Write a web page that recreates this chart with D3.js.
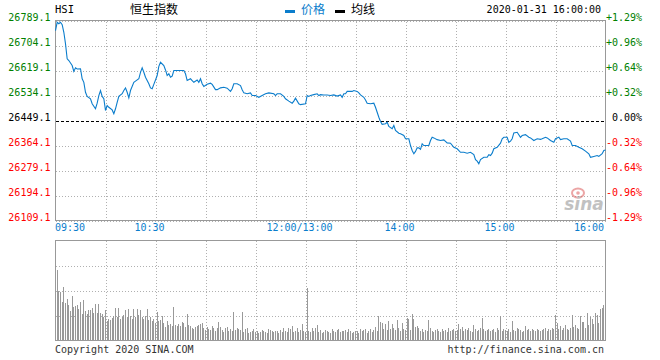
<!DOCTYPE html>
<html><head><meta charset="utf-8">
<script src="https://cdn.jsdelivr.net/npm/d3@7/dist/d3.min.js"></script>
<style>body{margin:0;background:#fff}svg{display:block}</style>
</head><body>
<svg id="chart" width="660" height="360"></svg>
<script>
// ---- data ----
const title = "恒生指数";
const symbol = "HSI";
const stamp = "2020-01-31 16:00:00";
const prevClose = 26449.1;
const priceTicks = [26789.1, 26704.1, 26619.1, 26534.1, 26449.1, 26364.1, 26279.1, 26194.1, 26109.1];
const pctTicks = ["+1.29%", "+0.96%", "+0.64%", "+0.32%", "0.00%", "-0.32%", "-0.64%", "-0.96%", "-1.29%"];
const timeLabels = ["09:30", "10:30", "12:00/13:00", "14:00", "15:00", "16:00"];
const timeLabelMinutes = [0, 60, 150, 210, 270, 330];
const gridMinutes = [30, 60, 90, 120, 150, 180, 210, 240, 270, 300];
// minute index since 09:30 (trading minutes, lunch removed)
const priceMinutes = [0,1,2,3,4,5,6,7,8,10,11,12,13,15,16,17,18,19,21,22,24,25,26,27,28,29,30,31,32,34,35,36,37,38,40,41,42,43,44,45,47,48,50,51,52,53,54,56,57,58,59,61,62,63,65,66,67,68,69,70,71,73,77,78,79,81,82,83,85,86,87,88,89,91,93,94,96,97,99,101,103,105,106,107,109,111,112,113,115,117,118,120,122,124,126,128,131,132,133,135,137,138,140,142,143,144,146,147,150,151,152,153,155,157,158,159,161,163,165,167,169,171,172,173,174,175,178,179,181,182,183,185,186,187,189,191,192,193,194,195,196,198,199,200,202,203,204,206,207,209,210,212,213,214,215,216,217,218,219,220,221,223,224,225,226,227,229,231,233,235,237,239,241,243,245,247,249,251,252,253,254,255,257,259,260,261,262,263,265,267,268,269,271,272,273,274,275,277,279,280,282,284,285,287,289,291,292,294,295,297,299,300,302,303,305,307,309,310,312,314,316,318,320,321,323,325,326,328,329,330];
const priceValues = [26755,26783,26778,26783,26775,26749,26710,26659,26653,26636,26616,26628,26624,26625,26591,26579,26545,26531,26523,26506,26489,26508,26534,26551,26531,26523,26483,26500,26494,26485,26472,26489,26511,26531,26540,26551,26560,26545,26526,26551,26579,26583,26591,26613,26628,26613,26596,26574,26560,26557,26572,26602,26633,26647,26636,26621,26602,26608,26596,26600,26619,26619,26619,26608,26585,26591,26585,26579,26587,26579,26591,26574,26565,26572,26576,26572,26554,26554,26560,26562,26559,26548,26557,26574,26574,26568,26554,26543,26540,26543,26534,26534,26528,26534,26540,26543,26540,26534,26540,26540,26531,26523,26515,26508,26515,26525,26506,26503,26506,26534,26531,26534,26537,26540,26534,26537,26536,26536,26534,26536,26532,26536,26528,26540,26540,26548,26548,26551,26548,26543,26536,26528,26519,26508,26506,26508,26494,26477,26460,26446,26436,26438,26443,26429,26421,26432,26415,26406,26404,26398,26387,26387,26364,26347,26336,26344,26356,26356,26351,26370,26364,26364,26364,26381,26392,26390,26384,26381,26383,26373,26372,26358,26353,26341,26341,26338,26341,26333,26316,26311,26302,26316,26324,26324,26333,26330,26338,26353,26358,26372,26387,26392,26392,26375,26379,26387,26407,26409,26392,26398,26401,26392,26390,26381,26387,26385,26387,26392,26390,26381,26375,26387,26392,26384,26387,26387,26379,26364,26364,26358,26353,26345,26336,26324,26327,26330,26327,26336,26347,26349];
// volume per minute (minutes 1..330), relative units (panel max = 100)
const volumes = [
71,50,49,39,54,38,42,36,30,45,
34,35,36,32,39,27,41,30,27,31,
31,33,28,37,28,37,28,27,24,31,
20,22,21,23,25,33,24,33,22,24,
26,31,24,32,25,22,32,24,32,26,
31,24,22,25,32,21,24,20,22,18,
29,20,21,25,18,14,20,16,17,15,
34,16,15,17,15,19,18,14,27,16,
15,13,12,14,15,16,17,18,13,11,
14,12,11,15,13,10,13,19,14,11,
9,13,14,10,12,10,29,11,13,12,
11,29,9,12,13,8,9,10,12,9,
10,8,9,11,10,9,8,12,11,10,
9,10,10,8,11,9,13,10,9,13,
12,15,9,10,13,9,11,17,10,9,
53,10,9,13,10,13,16,9,11,8,
9,11,10,9,8,12,10,9,11,12,
9,10,10,11,9,12,10,8,9,10,
10,8,12,10,11,12,8,10,12,9,
11,14,10,25,19,18,12,17,11,20,
12,17,13,11,21,13,10,18,12,11,
23,22,11,27,22,14,15,13,10,12,
9,11,10,21,13,10,9,11,12,10,
9,12,10,11,9,13,10,11,12,10,
11,17,12,14,10,12,11,13,10,9,
16,12,10,11,13,23,12,10,11,12,
10,11,12,9,13,11,25,10,12,11,
10,12,9,20,11,10,13,12,11,9,
10,15,11,12,10,12,11,10,12,11,
10,11,12,13,10,12,11,13,12,26,
18,12,15,11,13,16,12,11,13,26,
14,16,13,12,25,19,19,13,28,16,
24,22,17,28,26,18,32,33,36,50];
const legendNames = ["价格", "均线"];
const footerLeft = "Copyright 2020 SINA.COM";
const footerRight = "http://finance.sina.com.cn";

// ---- drawing ----
const svg = d3.select("#chart");
const MONO = "'DejaVu Sans Mono', 'Liberation Mono', monospace";
const CJK = "'Noto Sans CJK SC', sans-serif";
const BLUE = "#0b7dcc";
const GREEN = "#008000", RED = "#ff0000";
const GRID = "#b0b0b0", BORDER = "#999";

const L = 55.5, R = 605.5, T = 20.5, B = 220.5;
const VT = 240.5, VB = 340.5;

const x = d3.scaleLinear().domain([0, 330]).range([L, R]);
const y = d3.scaleLinear().domain([26109.1, 26789.1]).range([B, T]);
const yv = d3.scaleLinear().domain([0, 100]).range([VB, VT]);

svg.append("rect").attr("width", 660).attr("height", 360).attr("fill", "#fff");

// header
svg.append("text").attr("x", 55).attr("y", 13).attr("font-family", MONO).attr("font-size", 10.5).attr("fill", "#000").text(symbol);
svg.append("text").attr("x", 154).attr("y", 14).attr("text-anchor", "middle").attr("font-family", CJK).attr("font-size", 12).attr("fill", "#000").text(title);
svg.append("rect").attr("x", 285).attr("y", 10).attr("width", 10).attr("height", 3).attr("fill", BLUE);
svg.append("text").attr("x", 301).attr("y", 14).attr("font-family", CJK).attr("font-size", 12).attr("fill", BLUE).text(legendNames[0]);
svg.append("rect").attr("x", 335).attr("y", 10).attr("width", 10).attr("height", 3).attr("fill", "#000");
svg.append("text").attr("x", 351).attr("y", 14).attr("font-family", CJK).attr("font-size", 12).attr("fill", "#000").text(legendNames[1]);
svg.append("text").attr("x", 601).attr("y", 13).attr("text-anchor", "end").attr("font-family", MONO).attr("font-size", 10).attr("fill", "#000").text(stamp);

// price panel grid
const gMain = svg.append("g");
const yAxisGrid = d3.axisLeft(y).tickValues(priceTicks).tickSize(-(R - L)).tickFormat("");
gMain.append("g").attr("transform", `translate(${L},0)`).call(yAxisGrid)
  .call(g => g.select(".domain").remove())
  .selectAll("line").attr("stroke", d => d === prevClose ? "#000" : GRID)
  .attr("stroke-dasharray", d => d === prevClose ? "3,2" : "1,2")
  .attr("shape-rendering", "crispEdges");
const xAxisGrid = d3.axisBottom(x).tickValues(gridMinutes).tickSize(-(B - T)).tickFormat("");
gMain.append("g").attr("transform", `translate(0,${B})`).call(xAxisGrid)
  .call(g => g.select(".domain").remove())
  .selectAll("line").attr("stroke", GRID).attr("stroke-dasharray", "1,2").attr("shape-rendering", "crispEdges");
gMain.append("rect").attr("x", L).attr("y", T).attr("width", R - L).attr("height", B - T)
  .attr("fill", "none").attr("stroke", BORDER).attr("shape-rendering", "crispEdges");

// watermark
const wm = svg.append("g").attr("opacity", 0.6);
wm.append("ellipse").attr("cx", 578).attr("cy", 193).attr("rx", 6).attr("ry", 4.5).attr("fill", "none").attr("stroke", "#e06a6a").attr("stroke-width", 2);
wm.append("circle").attr("cx", 578).attr("cy", 193).attr("r", 1.8).attr("fill", "#e06a6a");
wm.append("text").attr("x", 584).attr("y", 210).attr("text-anchor", "middle").attr("font-family", "'DejaVu Sans', sans-serif")
  .attr("font-style", "italic").attr("font-weight", "bold").attr("font-size", 17).attr("fill", "#999").text("sina");

// left/right labels
const colorFor = v => v > prevClose ? GREEN : (v < prevClose ? RED : "#000");
svg.append("g").selectAll("text").data(priceTicks).join("text")
  .attr("x", 50.5).attr("y", d => y(d) + 0.5).attr("text-anchor", "end")
  .attr("font-family", MONO).attr("font-size", 10).attr("fill", colorFor)
  .text(d => d.toFixed(1));
svg.append("g").selectAll("text").data(priceTicks).join("text")
  .attr("x", 642).attr("y", d => y(d) + 0.5).attr("text-anchor", "end")
  .attr("font-family", MONO).attr("font-size", 10).attr("fill", colorFor)
  .text((d, i) => pctTicks[i]);

// time labels
svg.append("g").selectAll("text").data(timeLabels).join("text")
  .attr("x", (d, i) => i === 0 ? 55 : (i === timeLabels.length - 1 ? 604 : x(timeLabelMinutes[i]) - 6))
  .attr("y", 231)
  .attr("text-anchor", (d, i) => i === 0 ? "start" : (i === timeLabels.length - 1 ? "end" : "middle"))
  .attr("font-family", MONO).attr("font-size", 10).attr("fill", BLUE).text(d => d);

// price line
const pts = priceMinutes.map((m, i) => [m, priceValues[i]]);
svg.append("path").datum(pts)
  .attr("d", d3.line().x(d => x(d[0])).y(d => y(d[1])))
  .attr("fill", "none").attr("stroke", BLUE).attr("stroke-width", 1.1);

// volume panel
const gVol = svg.append("g");
gVol.append("g").attr("transform", `translate(${L},0)`)
  .call(d3.axisLeft(yv).tickValues([25, 50, 75]).tickSize(-(R - L)).tickFormat(""))
  .call(g => g.select(".domain").remove())
  .selectAll("line").attr("stroke", GRID).attr("stroke-dasharray", "1,2").attr("shape-rendering", "crispEdges");
gVol.append("g").attr("transform", `translate(0,${VB})`)
  .call(d3.axisBottom(x).tickValues(gridMinutes).tickSize(-(VB - VT)).tickFormat(""))
  .call(g => g.select(".domain").remove())
  .selectAll("line").attr("stroke", GRID).attr("stroke-dasharray", "1,2").attr("shape-rendering", "crispEdges");
gVol.append("g").selectAll("rect").data(volumes).join("rect")
  .attr("x", (d, i) => Math.floor(x(i + 1)) - 0.5).attr("width", 1)
  .attr("y", d => yv(d)).attr("height", d => VB - yv(d))
  .attr("fill", "#999").attr("shape-rendering", "crispEdges");
gVol.append("rect").attr("x", L).attr("y", VT).attr("width", R - L).attr("height", VB - VT)
  .attr("fill", "none").attr("stroke", BORDER).attr("shape-rendering", "crispEdges");

// footer
svg.append("text").attr("x", 55).attr("y", 353).attr("font-family", MONO).attr("font-size", 10).attr("fill", "#333").text(footerLeft);
svg.append("text").attr("x", 604).attr("y", 353).attr("text-anchor", "end").attr("font-family", MONO).attr("font-size", 10).attr("fill", "#333").text(footerRight);
</script>
</body></html>
